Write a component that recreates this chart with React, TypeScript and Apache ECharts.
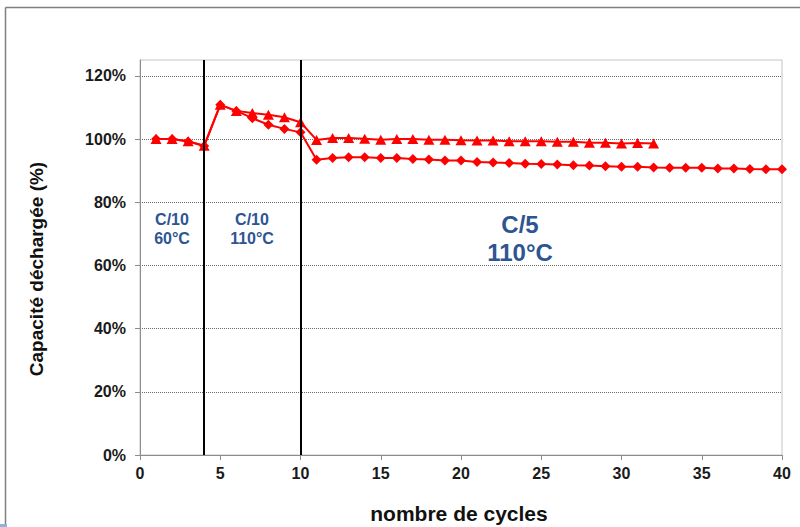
import React, { useEffect, useRef } from "react";
import * as echarts from "echarts";

const cyclesA = Array.from({ length: 32 }, (_, i) => i + 1);
const cyclesB = Array.from({ length: 40 }, (_, i) => i + 1);
const triangleValues = [
  100.0, 100.0, 99.3, 97.9, 110.8, 108.9, 108.2, 107.7, 106.9, 105.3,
  99.7, 100.3, 100.3, 100.1, 99.8, 100.0, 100.0, 99.8, 99.8, 99.6,
  99.5, 99.5, 99.3, 99.3, 99.3, 99.1, 99.1, 98.8, 98.8, 98.6, 98.7, 98.6,
];
const diamondValues = [
  100.0, 100.0, 99.2, 97.8, 110.8, 108.9, 106.6, 104.5, 103.2, 102.1,
  93.4, 94.0, 94.2, 94.2, 94.0, 94.0, 93.7, 93.5, 93.2, 93.2,
  92.7, 92.6, 92.4, 92.2, 92.1, 91.9, 91.7, 91.6, 91.4, 91.2,
  91.2, 91.0, 90.9, 90.9, 90.9, 90.7, 90.7, 90.5, 90.4, 90.4,
];
const phaseBoundaries = [4, 10];
const yTicks = [0, 20, 40, 60, 80, 100, 120];
const xTitle = "nombre de cycles";
const yTitle = "Capacité déchargée (%)";

const FONT = "'Liberation Sans', Arial, sans-serif";
const BLUE = "#2D5592";

export default function App() {
  const ref = useRef<HTMLDivElement>(null);
  useEffect(() => {
    if (!ref.current) return;
    const chart = echarts.init(ref.current, null, { renderer: "svg" });
    chart.setOption({
      animation: false,
      backgroundColor: "#ffffff",
      textStyle: { fontFamily: FONT },
      grid: {
        left: 140,
        right: 18,
        top: 60,
        bottom: 72,
        show: true,
        borderColor: "#c4c4c4",
        borderWidth: 1,
      },
      xAxis: {
        type: "value",
        min: 0,
        max: 40,
        interval: 5,
        axisLine: { show: true, lineStyle: { color: "#8c8c8c", width: 1 } },
        axisTick: { show: true, length: 5, lineStyle: { color: "#8c8c8c" } },
        axisLabel: { fontFamily: FONT, fontWeight: "bold", fontSize: 16, color: "#1a1a1a", margin: 10 },
        splitLine: { show: false },
      },
      yAxis: {
        type: "value",
        min: 0,
        max: 125,
        interval: 20,
        axisLine: { show: true, lineStyle: { color: "#8c8c8c", width: 1 } },
        axisTick: { show: true, length: 5, lineStyle: { color: "#8c8c8c" }, customValues: yTicks },
        axisLabel: {
          fontFamily: FONT,
          fontWeight: "bold",
          fontSize: 16,
          color: "#1a1a1a",
          margin: 14,
          customValues: yTicks,
          formatter: (v: number) => (v > 120 ? "" : v + "%"),
        },
        splitLine: { show: true, lineStyle: { color: "#6a6a6a", type: [1, 1], width: 1 } },
      },
      series: [
        {
          type: "line",
          data: cyclesB.map((c, i) => [c, diamondValues[i]]),
          symbol: "diamond",
          symbolSize: [10, 10],
          itemStyle: { color: "#ff0000" },
          lineStyle: { color: "#ff0000", width: 2 },
          z: 3,
          markLine: {
            silent: true,
            symbol: "none",
            label: { show: false },
            lineStyle: { color: "#000000", width: 2, type: "solid" },
            data: phaseBoundaries.map((x) => ({ xAxis: x })),
          },
        },
        {
          type: "line",
          data: cyclesA.map((c, i) => [c, triangleValues[i]]),
          symbol: "triangle",
          symbolSize: [11, 10],
          itemStyle: { color: "#ff0000" },
          lineStyle: { color: "#ff0000", width: 2 },
          z: 4,
        },
      ],
      graphic: [
        { type: "line", shape: { x1: 5.5, y1: 7.5, x2: 800, y2: 7.5 }, style: { stroke: "#808080", lineWidth: 1.5 } },
        { type: "line", shape: { x1: 5.5, y1: 7.5, x2: 5.5, y2: 527 }, style: { stroke: "#808080", lineWidth: 1.5 } },
        { type: "rect", shape: { x: 0, y: 524, width: 7, height: 3 }, style: { fill: "#8fb4dc" } },
        {
          type: "text",
          x: 459,
          y: 513,
          style: {
            text: xTitle,
            font: `bold 21px ${FONT}`,
            fill: "#111",
            align: "center",
            verticalAlign: "middle",
          },
        },
        {
          type: "text",
          x: 36,
          y: 269,
          rotation: Math.PI / 2,
          style: {
            text: yTitle,
            font: `bold 19px ${FONT}`,
            fill: "#111",
            align: "center",
            verticalAlign: "middle",
          },
        },
        {
          type: "text",
          x: 172,
          y: 229,
          style: {
            text: "C/10\n60°C",
            font: `bold 16px ${FONT}`,
            fill: BLUE,
            align: "center",
            verticalAlign: "middle",
            lineHeight: 19,
          },
        },
        {
          type: "text",
          x: 252,
          y: 229,
          style: {
            text: "C/10\n110°C",
            font: `bold 16px ${FONT}`,
            fill: BLUE,
            align: "center",
            verticalAlign: "middle",
            lineHeight: 19,
          },
        },
        {
          type: "text",
          x: 520,
          y: 238,
          style: {
            text: "C/5\n110°C",
            font: `bold 24px ${FONT}`,
            fill: BLUE,
            align: "center",
            verticalAlign: "middle",
            lineHeight: 28,
          },
        },
      ],
    });
    return () => chart.dispose();
  }, []);
  return (
    <div
      ref={ref}
      style={{ position: "fixed", left: 0, top: 0, width: 800, height: 527, background: "#fff" }}
    />
  );
}
